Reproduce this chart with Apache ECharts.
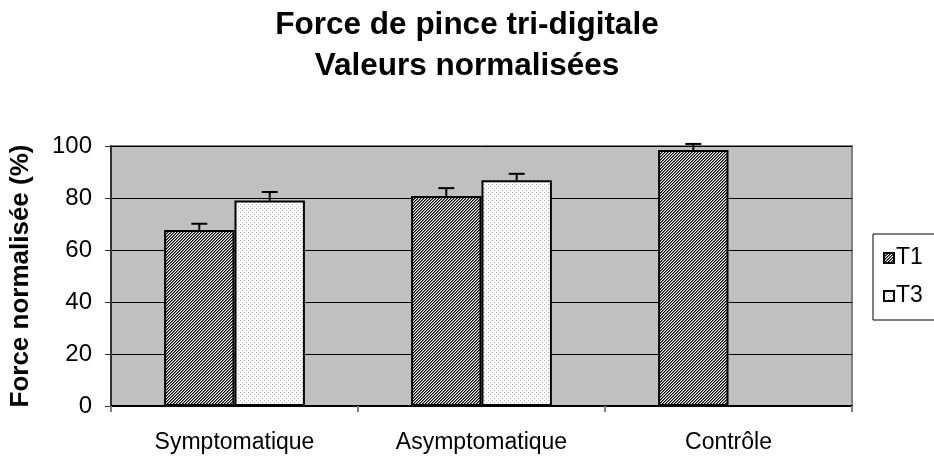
<!DOCTYPE html>
<html>
<head>
<meta charset="utf-8">
<script src="https://cdn.jsdelivr.net/npm/echarts@6/dist/echarts.min.js"></script>
<style>html,body{margin:0;padding:0;background:#fff;}#c{width:934px;height:460px;}</style>
</head>
<body>
<div id="c"></div>
<script>
const categories = ['Symptomatique', 'Asymptomatique', 'Contrôle'];
const seriesNames = ['T1', 'T3'];
const t1Values = [67.7, 80.8, 98.5];
const t3Values = [79.0, 86.8, null];
const t1Errors = [2.4, 3.0, 2.3];
const t3Errors = [3.3, 2.5, null];
const yTicks = [0, 20, 40, 60, 80, 100];

const FONT = 'Liberation Sans, Arial, Helvetica, sans-serif';

function makePattern(kind) {
  const n = kind === 'hatch' ? 3 : 4;
  const c = document.createElement('canvas');
  c.width = n; c.height = n;
  const g = c.getContext('2d');
  g.fillStyle = '#ffffff';
  g.fillRect(0, 0, n, n);
  if (kind === 'hatch') {
    for (let x = 0; x < n; x++) for (let y = 0; y < n; y++) {
      const k = (x + y) % 3;
      if (k === 0) { g.fillStyle = '#000000'; g.fillRect(x, y, 1, 1); }
      else if (k === 1) { g.fillStyle = '#707070'; g.fillRect(x, y, 1, 1); }
    }
  } else {
    g.fillStyle = '#b0b0b0';
    g.fillRect(0, 0, 1, 1);
    g.fillRect(2, 2, 1, 1);
  }
  return c;
}

const hatch = { image: makePattern('hatch'), repeat: 'repeat' };
const dots = { image: makePattern('dots'), repeat: 'repeat' };

const GAP = 0.43;
function errRender(offsetSign, values, errors) {
  return function (params, api) {
    const i = api.value(0);
    const v = values[i], e = errors[i];
    if (v == null || e == null) return null;
    const catW = api.size([1, 0])[0];
    const barW = catW * (1 - GAP) / 2;
    const base = api.coord([i, v]);
    const top = api.coord([i, v + e]);
    const x = base[0] + offsetSign * barW / 2;
    const half = 8;
    const st = { stroke: '#000', lineWidth: 2 };
    return {
      type: 'group',
      children: [
        { type: 'line', shape: { x1: x, y1: base[1], x2: x, y2: top[1] }, style: st },
        { type: 'line', shape: { x1: x - half, y1: top[1], x2: x + half, y2: top[1] }, style: st }
      ]
    };
  };
}

const chart = echarts.init(document.getElementById('c'), null, { renderer: 'canvas' });
chart.setOption({
  animation: false,
  textStyle: { fontFamily: FONT },
  title: {
    text: 'Force de pince tri-digitale\nValeurs normalisées',
    left: 'center',
    top: 0,
    textStyle: { fontFamily: FONT, fontSize: 31.5, fontWeight: 'bold', color: '#000', lineHeight: 41 }
  },
  legend: {
    orient: 'vertical',
    left: 873,
    top: 234,
    data: seriesNames,
    borderColor: '#000',
    borderWidth: 1,
    padding: [12, 30, 12, 10],
    itemGap: 14,
    itemWidth: 10,
    itemHeight: 10,
    icon: 'rect',
    textStyle: { fontFamily: FONT, fontSize: 23, color: '#000', lineHeight: 24, padding: [0, 0, 0, -3] }
  },
  grid: {
    left: 111, right: 82, top: 146, bottom: 54,
    show: true,
    backgroundColor: '#c0c0c0',
    borderColor: '#808080',
    borderWidth: 2
  },
  xAxis: {
    type: 'category',
    data: categories,
    axisLine: { show: true, lineStyle: { color: '#000', width: 2 } },
    axisTick: { show: true, length: 6, lineStyle: { color: '#808080', width: 2 } },
    axisLabel: { fontFamily: FONT, fontSize: 23, color: '#000', margin: 25 },
    splitLine: { show: false }
  },
  yAxis: {
    type: 'value',
    min: yTicks[0],
    max: yTicks[yTicks.length - 1],
    interval: 20,
    name: 'Force normalisée (%)',
    nameLocation: 'middle',
    nameGap: 77,
    nameTextStyle: { fontFamily: FONT, fontSize: 26, fontWeight: 'bold', color: '#000' },
    axisLine: { show: true, lineStyle: { color: '#333', width: 2 } },
    axisTick: { show: true, length: 6, lineStyle: { color: '#333', width: 1 } },
    axisLabel: { fontFamily: FONT, fontSize: 24, color: '#000', margin: 19 },
    splitLine: { show: true, lineStyle: { color: '#000', width: 1 } }
  },
  series: [
    {
      name: 'T1', type: 'bar', data: t1Values,
      barGap: '0%', barCategoryGap: '43%',
      itemStyle: { color: hatch, borderColor: '#000', borderWidth: 2 }
    },
    {
      name: 'T3', type: 'bar', data: t3Values,
      barGap: '0%', barCategoryGap: '43%',
      itemStyle: { color: dots, borderColor: '#000', borderWidth: 2 }
    },
    {
      type: 'custom', name: 'errT1', silent: true, z: 5,
      renderItem: errRender(-1, t1Values, t1Errors),
      data: categories.map((c, i) => [i, t1Values[i]])
    },
    {
      type: 'custom', name: 'errT3', silent: true, z: 5,
      renderItem: errRender(1, t3Values, t3Errors),
      data: categories.map((c, i) => [i, t3Values[i] == null ? 0 : t3Values[i]])
    }
  ]
});
</script>
</body>
</html>
